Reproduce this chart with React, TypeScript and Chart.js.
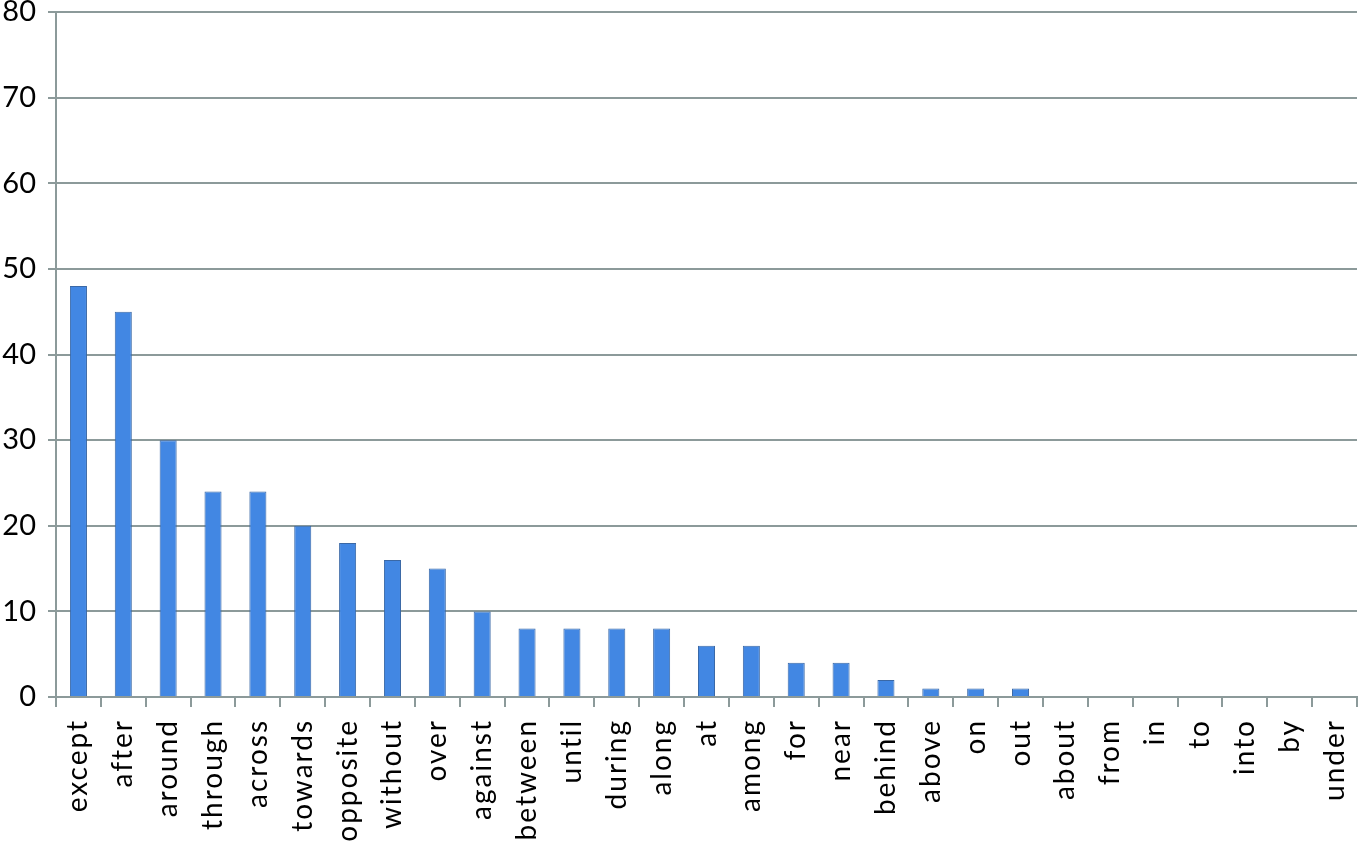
import React, { useEffect, useRef } from "react";
import { Chart, registerables } from "chart.js";

Chart.register(...registerables);

const categories = [
  "except", "after", "around", "through", "across", "towards", "opposite", "without", "over",
  "against", "between", "until", "during", "along", "at", "among", "for", "near", "behind",
  "above", "on", "out", "about", "from", "in", "to", "into", "by", "under",
];
const counts = [48, 45, 30, 24, 24, 20, 18, 16, 15, 10, 8, 8, 8, 8, 6, 6, 4, 4, 2, 1, 1, 1, 0, 0, 0, 0, 0, 0, 0];
const yMin = 0;
const yMax = 80;
const yStep = 10;

const spacingPlugin = {
  id: "xLabelSpacing",
  afterDatasetsDraw(chart: any) {
    chart.ctx.letterSpacing = "2px";
  },
  afterDraw(chart: any) {
    chart.ctx.letterSpacing = "0px";
  },
};

export default function App() {
  const ref = useRef<HTMLCanvasElement | null>(null);
  useEffect(() => {
    if (!ref.current) return;
    const gridColor = "#8c9a9a";
    const chart = new Chart(ref.current, {
      type: "bar",
      data: {
        labels: categories,
        datasets: [
          {
            data: counts,
            backgroundColor: "#4287e3",
            borderColor: "#3a68a6",
            borderWidth: 1,
            barPercentage: 0.38,
            categoryPercentage: 1,
          },
        ],
      },
      plugins: [spacingPlugin],
      options: {
        animation: false,
        responsive: false,
        maintainAspectRatio: false,
        layout: { padding: { top: 12, right: 2, left: 0, bottom: 0 } },
        plugins: { legend: { display: false }, tooltip: { enabled: false } },
        scales: {
          x: {
            offset: true,
            grid: {
              offset: true,
              drawOnChartArea: false,
              drawTicks: true,
              tickLength: 10,
              color: gridColor,
              lineWidth: 2,
            },
            border: { color: gridColor, width: 2 },
            ticks: {
              z: 1,
              minRotation: 90,
              maxRotation: 90,
              autoSkip: false,
              padding: 12,
              color: "#000",
              font: { family: "Lato, 'Open Sans', sans-serif", size: 28 },
            },
            afterFit: (s: any) => {
              s.height = 147;
              s.paddingLeft = 0;
              s.paddingRight = 0;
            },
          },
          y: {
            min: yMin,
            max: yMax,
            grid: { color: gridColor, lineWidth: 2, tickLength: 8 },
            border: { color: gridColor, width: 2 },
            ticks: {
              stepSize: yStep,
              color: "#000",
              font: { family: "Lato, 'Open Sans', sans-serif", size: 29 },
              padding: 12,
            },
            afterFit: (s: any) => {
              s.width = 56;
              s.paddingTop = 0;
              s.paddingBottom = 0;
            },
          },
        },
      },
    });
    return () => chart.destroy();
  }, []);
  return (
    <div style={{ position: "fixed", left: 0, top: 0, width: 1359, height: 844, background: "#fff" }}>
      <canvas ref={ref} width={1359} height={844} style={{ width: 1359, height: 844 }} />
    </div>
  );
}
